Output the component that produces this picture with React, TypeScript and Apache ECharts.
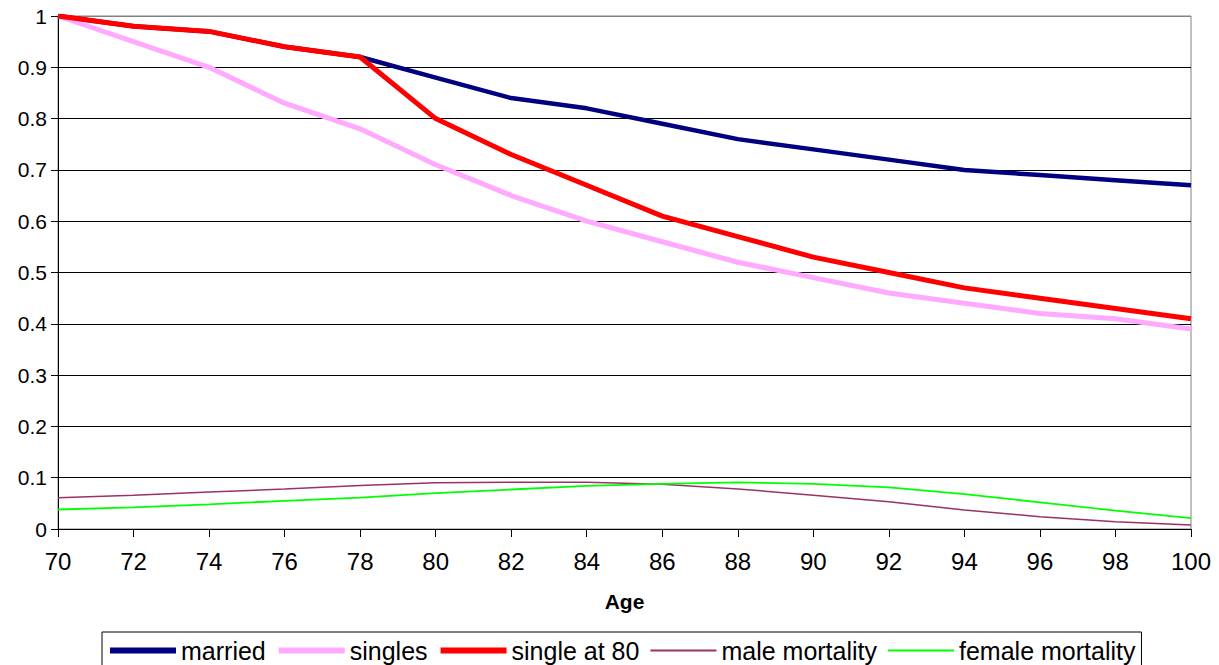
import React, { useEffect, useRef } from "react";
import * as echarts from "echarts";

const ages = [70, 72, 74, 76, 78, 80, 82, 84, 86, 88, 90, 92, 94, 96, 98, 100];
const married = [1, 0.98, 0.97, 0.94, 0.92, 0.88, 0.84, 0.82, 0.79, 0.76, 0.74, 0.72, 0.70, 0.69, 0.68, 0.67];
const singles = [1, 0.95, 0.90, 0.83, 0.78, 0.71, 0.65, 0.60, 0.56, 0.52, 0.49, 0.46, 0.44, 0.42, 0.41, 0.39];
const singleAt80 = [1, 0.98, 0.97, 0.94, 0.92, 0.80, 0.73, 0.67, 0.61, 0.57, 0.53, 0.50, 0.47, 0.45, 0.43, 0.41];
const maleMortality = [0.061, 0.066, 0.072, 0.078, 0.085, 0.090, 0.091, 0.091, 0.087, 0.078, 0.066, 0.053, 0.037, 0.024, 0.014, 0.008];
const femaleMortality = [0.038, 0.042, 0.048, 0.055, 0.061, 0.070, 0.077, 0.084, 0.088, 0.091, 0.088, 0.081, 0.068, 0.052, 0.036, 0.021];

const seriesNames = ["married", "singles", "single at 80", "male mortality", "female mortality"];
const seriesColors = ["#000080", "#FFAAFF", "#FF0000", "#993366", "#00FF00"];
const seriesWidths = [4.5, 5, 5, 1.5, 1.8];
const legendWidths = [6, 6, 6, 2, 2];

const FONT = "'Liberation Sans', Arial, sans-serif";

const pairs = (ys: number[]) => ages.map((a, i) => [a, ys[i]]);

export default function App() {
  const ref = useRef<HTMLDivElement>(null);
  useEffect(() => {
    if (!ref.current) return;
    const chart = echarts.init(ref.current, undefined, { renderer: "svg" });
    const gridColors = ["#000", "#000", "#000", "#000", "#000", "#000", "#000", "#000", "#000", "#000", "#808080"];
    const allData = [married, singles, singleAt80, maleMortality, femaleMortality];
    chart.setOption({
      animation: false,
      backgroundColor: "#fff",
      textStyle: { fontFamily: FONT },
      grid: {
        left: 58,
        right: 28,
        top: 16,
        bottom: 136,
        show: true,
        borderColor: "#808080",
        borderWidth: 1,
      },
      xAxis: {
        type: "value",
        min: 70,
        max: 100,
        interval: 2,
        name: "Age",
        nameLocation: "middle",
        nameGap: 62,
        nameTextStyle: { fontSize: 21, fontWeight: "bold", color: "#000", fontFamily: FONT },
        axisLine: { show: true, lineStyle: { color: "#000", width: 1 } },
        axisTick: { show: true, inside: false, length: 8, lineStyle: { color: "#000" } },
        axisLabel: { fontSize: 24, color: "#000", margin: 20, fontFamily: FONT },
        splitLine: { show: false },
      },
      yAxis: {
        type: "value",
        min: 0,
        max: 1,
        interval: 0.1,
        axisLine: { show: true, lineStyle: { color: "#000", width: 1 } },
        axisTick: { show: true, inside: false, length: 7, lineStyle: { color: "#000" } },
        axisLabel: { fontSize: 21, color: "#000", margin: 11, fontFamily: FONT },
        splitLine: { show: true, lineStyle: { color: gridColors, width: 1 } },
      },
      legend: {
        left: 102,
        top: 632,
        orient: "horizontal",
        itemWidth: 66,
        itemHeight: 14,
        itemGap: 10,
        padding: [6, 6, 6, 5],
        borderColor: "#000",
        borderWidth: 1,
        itemStyle: { opacity: 0 },
        textStyle: { fontSize: 25, color: "#000", fontFamily: FONT },
        data: seriesNames.map((name, i) => ({
          name,
          itemStyle: { opacity: 0 },
          lineStyle: { color: seriesColors[i], width: legendWidths[i] },
        })),
      },
      series: seriesNames.map((name, i) => ({
        name,
        type: "line",
        data: pairs(allData[i]),
        symbol: "none",
        lineStyle: { color: seriesColors[i], width: seriesWidths[i] },
        itemStyle: { color: seriesColors[i] },
        color: seriesColors[i],
      })),
    });
    return () => chart.dispose();
  }, []);
  return (
    <div
      ref={ref}
      style={{ position: "absolute", left: 0, top: 0, width: 1219, height: 665 }}
    />
  );
}
